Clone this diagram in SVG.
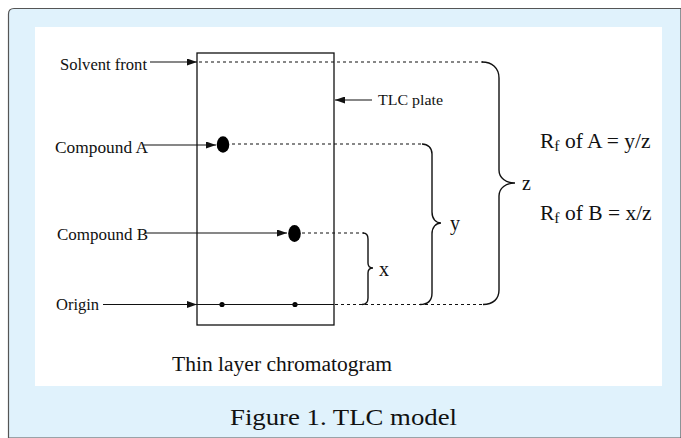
<svg xmlns="http://www.w3.org/2000/svg" width="681" height="438" viewBox="0 0 681 438">
<style>
.t{font-family:"Liberation Serif","Times New Roman",serif;fill:#111}
.ln{stroke:#111;stroke-width:1.1;fill:none}
.dot{stroke:#111;stroke-width:1.1;fill:none;stroke-dasharray:3 3}
.br{stroke:#111;stroke-width:1.4;fill:none}
</style>
<defs>
<marker id="ah" markerWidth="10" markerHeight="7" refX="10" refY="3.5" orient="auto" markerUnits="userSpaceOnUse">
<path d="M0,0 L10,3.5 L0,7 Z" fill="#111"/>
</marker>
</defs>
<g id="frame">
<path d="M8.5,438 L8.5,14 Q8.5,8.5 14,8.5 L681,8.5 L681,438 Z" fill="#e0f2fc" stroke="#555" stroke-width="1.2"/>
<rect x="35" y="27" width="627" height="359" fill="#ffffff"/>
</g>
<g id="plate">
<rect x="197" y="53" width="137" height="272" fill="none" stroke="#111" stroke-width="1.3"/>
</g>
<g id="spots">
<ellipse cx="223" cy="144.5" rx="6.3" ry="8.3" fill="#000"/>
<ellipse cx="294.5" cy="233.5" rx="6.3" ry="8.5" fill="#000"/>
<circle cx="222" cy="304.5" r="2.6" fill="#000"/>
<circle cx="295" cy="304.5" r="2.6" fill="#000"/>
</g>
<g id="connectors">
<line class="ln" x1="150" y1="62" x2="197" y2="62" marker-end="url(#ah)"/>
<line class="ln" x1="143" y1="145" x2="216" y2="145" marker-end="url(#ah)"/>
<line class="ln" x1="145" y1="233" x2="287" y2="233" marker-end="url(#ah)"/>
<line class="ln" x1="103" y1="304.5" x2="197" y2="304.5" marker-end="url(#ah)"/>
<line class="ln" x1="372" y1="100" x2="335" y2="100" marker-end="url(#ah)"/>
<line class="ln" x1="197" y1="304.5" x2="334" y2="304.5"/>
<line class="dot" x1="199" y1="62" x2="483" y2="62"/>
<line class="dot" x1="232" y1="144" x2="423" y2="144"/>
<line class="dot" x1="302" y1="233" x2="364" y2="233"/>
<line class="dot" x1="335" y1="304.5" x2="484" y2="304.5"/>
<path class="br" d="M482,62 C492,62 499,68 499,78 L499,170 C499,178 506,183 515,183 C506,183 499,188 499,196 L499,290 C499,299 493,304.5 483,304.5"/>
<path class="br" d="M422,144 C428,144 432,148 432,154 L432,212 C432,219 436,223 441,223 C436,223 432,227 432,234 L432,293 C432,300 428,304.5 420,304.5"/>
<path class="br" d="M363,233 C366,233 368,235 368,239 L368,263 C368,266 370,268 373,268 C370,268 368,270 368,273 L368,298 C368,302 366,304.5 362,304.5"/>
</g>
<g id="labels">
<text class="t" x="60" y="70" font-size="16" textLength="87" lengthAdjust="spacingAndGlyphs">Solvent front</text>
<text class="t" x="55" y="153" font-size="16.5" textLength="93" lengthAdjust="spacingAndGlyphs">Compound A</text>
<text class="t" x="57" y="240" font-size="16.5" textLength="91" lengthAdjust="spacingAndGlyphs">Compound B</text>
<text class="t" x="56" y="310" font-size="16.5">Origin</text>
<text class="t" x="378" y="105" font-size="15" textLength="65" lengthAdjust="spacingAndGlyphs">TLC plate</text>
<text class="t" x="522" y="190" font-size="20">z</text>
<text class="t" x="450" y="230" font-size="20">y</text>
<text class="t" x="379" y="276" font-size="20">x</text>
<text class="t" x="540" y="148" font-size="21.5">R<tspan font-size="15.5" dy="3">f</tspan><tspan dy="-3"> of A = y/z</tspan></text>
<text class="t" x="540" y="220" font-size="21.5">R<tspan font-size="15.5" dy="3">f</tspan><tspan dy="-3"> of B = x/z</tspan></text>
<text class="t" x="172" y="371" font-size="20" textLength="220" lengthAdjust="spacingAndGlyphs">Thin layer chromatogram</text>
<text class="t" x="230" y="425" font-size="24" textLength="227" lengthAdjust="spacingAndGlyphs">Figure 1. TLC model</text>
</g>
</svg>
